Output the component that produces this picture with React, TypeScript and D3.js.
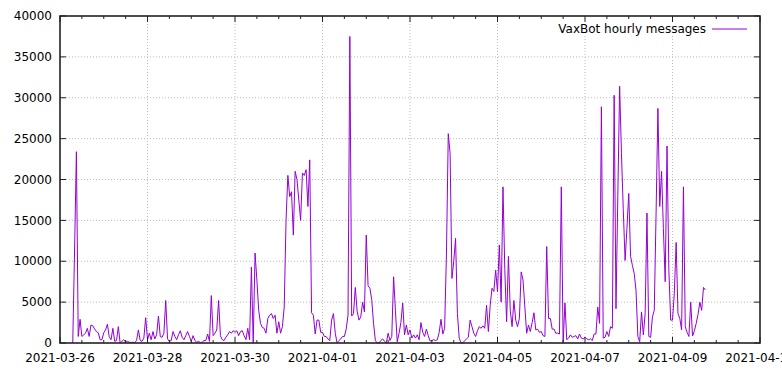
import React from "react";
import * as d3 from "d3";

// hourly message counts, one array per day (UTC), first sample at 2021-03-26 07:00
const firstHour = new Date(Date.UTC(2021, 2, 26, 7));
const day0326 = [0, 11500, 23400, 800, 2900, 800, 1000, 1200, 1800, 800, 2200, 2100, 1700, 1400, 1250, 400, 400];
const day0327 = [1250, 1600, 2300, 770, 400, 1800, 200, 300, 2000, 0, 200, 400, 100, 200, 100, 50, 100, 50, 300, 1600, 300, 200, 600, 3100];
const day0328 = [400, 1200, 400, 1400, 500, 1000, 3300, 800, 700, 1200, 5200, 500, 200, 300, 1400, 800, 400, 1000, 1500, 700, 400, 900, 1400, 800];
const day0329 = [200, 900, 300, 100, 200, 50, 100, 300, 300, 1100, 200, 5800, 900, 1200, 1600, 5200, 900, 400, 300, 700, 1000, 1400, 1200, 1500];
const day0330 = [1300, 1500, 900, 1400, 1500, 900, 400, 1800, 400, 9300, 0, 11000, 7700, 4000, 2400, 1900, 1800, 1200, 3000, 3400, 3600, 3000, 3400, 1200];
const day0331 = [2600, 1200, 2000, 4400, 15000, 20500, 17900, 18500, 13200, 21000, 20000, 17500, 15000, 20800, 20500, 21200, 16700, 22400, 3700, 3400, 1100, 2800, 2800, 1300];
const day0401 = [1300, 800, 800, 500, 300, 2800, 3600, 1200, 0, 300, 500, 800, 800, 1700, 3400, 37500, 3300, 3600, 6800, 3900, 2800, 3200, 5000, 3800];
const day0402 = [13200, 7000, 6700, 5300, 2400, 300, 0, 0, 300, 500, 200, 0, 1200, 300, 800, 8100, 4000, 150, 1200, 2500, 4900, 1000, 2200, 1000];
const day0403 = [1600, 600, 1000, 600, 1000, 400, 2500, 1300, 800, 1700, 900, 250, 300, 400, 300, 400, 1300, 2900, 1100, 1800, 11000, 25600, 23200, 7900];
const day0404 = [10000, 12800, 3600, 600, 0, 0, 300, 500, 700, 2800, 2000, 1200, 800, 1500, 2000, 1800, 2100, 1800, 4600, 1400, 4600, 6700, 6300, 8900];
const day0405 = [6300, 12000, 5000, 19100, 9000, 2600, 10600, 4000, 2000, 5200, 2800, 2000, 3000, 8700, 7700, 4400, 1200, 2200, 1400, 2500, 3700, 1600, 1700, 1300];
const day0406 = [1400, 900, 800, 11800, 3000, 3000, 1700, 1700, 1200, 1200, 1100, 19100, 0, 4900, 400, 600, 1000, 700, 800, 900, 500, 1100, 600, 500];
const day0407 = [700, 500, 400, 500, 300, 1100, 1100, 4400, 2400, 28900, 600, 700, 1400, 800, 2000, 1800, 30300, 4200, 18000, 31400, 23200, 16300, 10100, 14000];
const day0408 = [18300, 10600, 9500, 8500, 6400, 800, 150, 3800, 1000, 3600, 15900, 800, 700, 3200, 4000, 16000, 28700, 16700, 21000, 14000, 7500, 24100, 8900, 2800];
const day0409 = [2800, 6100, 12300, 3600, 3000, 1600, 19100, 2000, 1300, 800, 5000, 850, 1500, 2400, 3500, 5000, 4000, 6800, 6500];

const seriesName = "VaxBot hourly messages";
const yTickValues = [0, 5000, 10000, 15000, 20000, 25000, 30000, 35000, 40000];

const counts = [
  ...day0326, ...day0327, ...day0328, ...day0329, ...day0330,
  ...day0331, ...day0401, ...day0402, ...day0403, ...day0404,
  ...day0405, ...day0406, ...day0407, ...day0408, ...day0409,
];
const data = counts.map((v, i) => ({ t: d3.utcHour.offset(firstHour, i), v }));

const W = 782;
const H = 373;
const m = { left: 60, right: 22, top: 16, bottom: 30 };
const font = "'DejaVu Sans', sans-serif";

const App = () => {
  const start = new Date(Date.UTC(2021, 2, 26));
  const end = new Date(Date.UTC(2021, 3, 11));
  const x = d3.scaleUtc().domain([start, end]).range([m.left, W - m.right]);
  const y = d3.scaleLinear().domain([0, 40000]).range([H - m.bottom, m.top]);

  const majors = d3.utcDay.range(start, d3.utcHour.offset(end, 1), 2);
  const minors = d3.utcHour.range(start, d3.utcHour.offset(end, 1), 12);
  const fmt = d3.utcFormat("%Y-%m-%d");

  const line = d3
    .line<{ t: Date; v: number }>()
    .x((d) => x(d.t))
    .y((d) => y(d.v));

  const x0 = m.left;
  const x1 = W - m.right;
  const y0 = H - m.bottom;
  const y1 = m.top;

  return (
    <svg
      width={W}
      height={H}
      style={{ position: "absolute", left: 0, top: 0, background: "#fff" }}
      fontFamily={font}
      fontSize={12}
    >
      {/* grid */}
      <g stroke="#bbb" strokeDasharray="1,2" strokeWidth={1}>
        {yTickValues.slice(1, -1).map((t) => (
          <line key={"gy" + t} x1={x0} x2={x1} y1={y(t)} y2={y(t)} />
        ))}
        {majors.slice(1, -1).map((d) => (
          <line key={"gx" + d.getTime()} x1={x(d)} x2={x(d)} y1={y0} y2={y1} />
        ))}
      </g>

      {/* legend background */}
      <rect x={552} y={19} width={205} height={15} fill="#fff" />

      <path d={line(data) || ""} fill="none" stroke="#9400d3" strokeWidth={1} />

      {/* ticks */}
      <g stroke="#222" strokeWidth={1}>
        {minors.map((d) => {
          const major = d.getUTCHours() === 0 && majors.some((mj) => mj.getTime() === d.getTime());
          const len = major ? 6 : 3;
          return (
            <g key={"t" + d.getTime()}>
              <line x1={x(d)} x2={x(d)} y1={y0} y2={y0 - len} />
              <line x1={x(d)} x2={x(d)} y1={y1} y2={y1 + len} />
            </g>
          );
        })}
        {yTickValues.map((t) => (
          <g key={"ty" + t}>
            <line x1={x0} x2={x0 + 6} y1={y(t)} y2={y(t)} />
            <line x1={x1} x2={x1 - 6} y1={y(t)} y2={y(t)} />
          </g>
        ))}
      </g>

      <rect x={x0} y={y1} width={x1 - x0} height={y0 - y1} fill="none" stroke="#222" strokeWidth={1.6} />

      {/* tick labels */}
      {yTickValues.map((t) => (
        <text key={"ly" + t} x={52} y={y(t)} dy="0.35em" textAnchor="end" fill="#000">
          {t}
        </text>
      ))}
      {majors.map((d) => (
        <text key={"lx" + d.getTime()} x={x(d)} y={362} textAnchor="middle" fill="#000">
          {fmt(d)}
        </text>
      ))}

      {/* legend */}
      <text x={706} y={33} textAnchor="end" fill="#000">
        {seriesName}
      </text>
      <line x1={712} x2={747} y1={29} y2={29} stroke="#9400d3" strokeWidth={1} />
    </svg>
  );
};

export default App;
